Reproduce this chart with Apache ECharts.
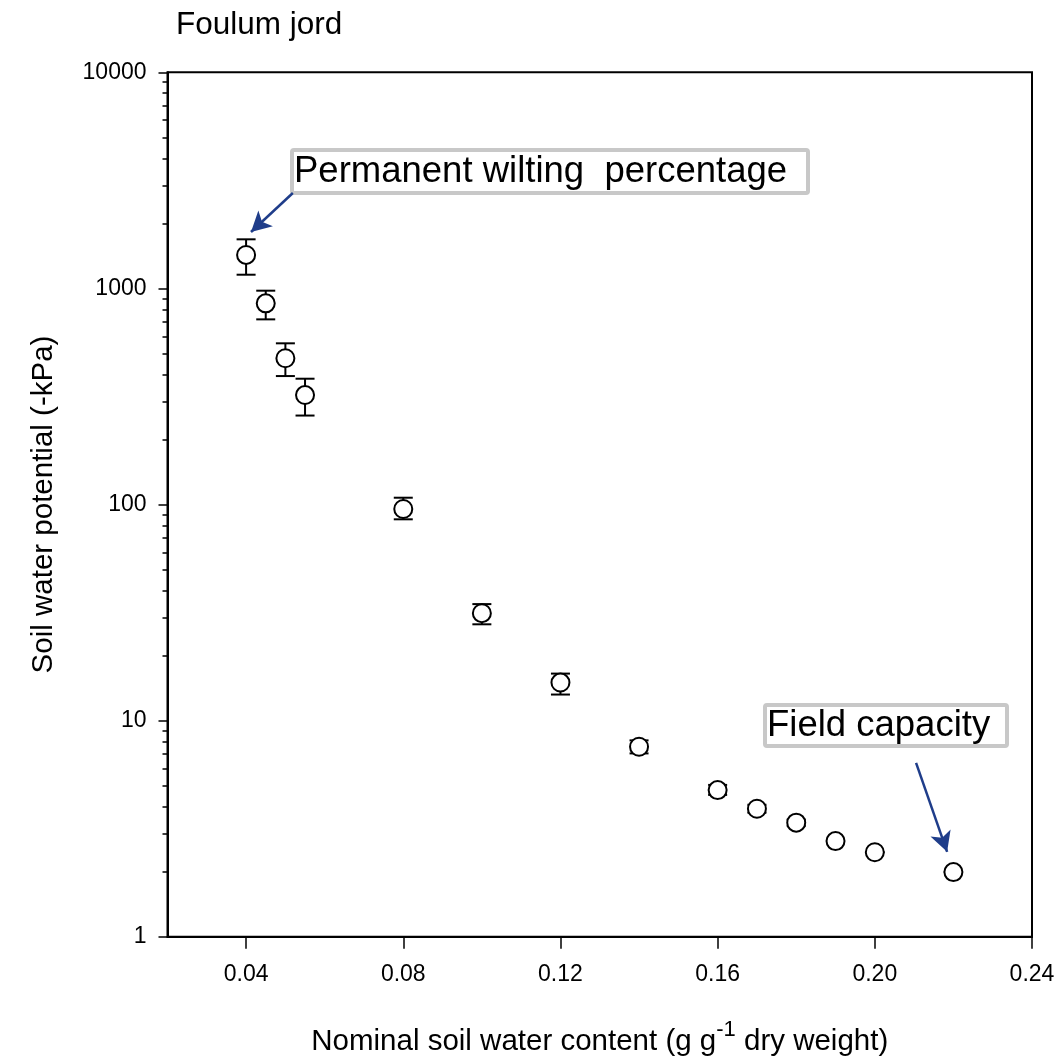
<!DOCTYPE html>
<html>
<head>
<meta charset="utf-8">
<title>Foulum jord</title>
<script src="https://cdn.jsdelivr.net/npm/echarts@6/dist/echarts.min.js"></script>
<style>
  html, body { margin: 0; padding: 0; background: #fff; }
  #main { width: 1064px; height: 1059px; }
</style>
</head>
<body>
<div id="main"></div>
<script>
// 土壤水分特征曲线 - Foulum jord

// 数据
var waterContent = [0.04, 0.045, 0.05, 0.055, 0.08, 0.10, 0.12, 0.14, 0.16, 0.17, 0.18, 0.19, 0.20, 0.22];
var potential    = [1428, 853, 475, 321, 95.3, 31.4, 15.0, 7.57, 4.77, 3.91, 3.37, 2.77, 2.46, 1.99];
var errHigh      = [1687, 976, 557, 382, 107.5, 34.6, 16.5, 8.1, 5.04, 4.08, 3.48, 2.77, 2.46, 1.99];
var errLow       = [1157, 719, 393, 258, 85.4, 27.9, 13.2, 7.05, 4.53, 3.75, 3.26, 2.77, 2.46, 1.99];

var xTicks = [0.04, 0.08, 0.12, 0.16, 0.20, 0.24];
var yTicks = [1, 10, 100, 1000, 10000];
var yMinorTicks = [2, 3, 4, 5, 6, 7, 8, 9, 20, 30, 40, 50, 60, 70, 80, 90,
                   200, 300, 400, 500, 600, 700, 800, 900, 2000, 3000, 4000, 5000, 6000, 7000, 8000, 9000];

// 注释箭头 (数据坐标)
var wiltingArrow = [[0.0519, 2764], [0.04125, 1824]];
var fieldArrow   = [[0.2105, 6.37], [0.2184, 2.47]];

var FONT = '"Liberation Sans", Arial, sans-serif';
var ARROW = '#1f3d8a';

function xLabel(v) {
    return v.toFixed(2);
}
function yLabel(v) {
    return String(Math.round(v));
}

var errData = [];
for (var i = 0; i < waterContent.length; i++)
    errData.push([waterContent[i], errLow[i], errHigh[i]]);

var pointData = [];
for (var j = 0; j < waterContent.length; j++)
    pointData.push([waterContent[j], potential[j]]);

var myChart = echarts.init(document.getElementById('main'));
var option = {
    backgroundColor: '#fff',
    animation: false,
    textStyle: { fontFamily: FONT, color: '#000' },
    title: {
        text: 'Foulum jord',
        left: 176,
        top: 9,
        padding: 0,
        textStyle: { fontFamily: FONT, fontSize: 31.5, fontWeight: 'normal', color: '#000' }
    },
    grid: {
        left: 167.5,
        right: 32,
        top: 72.3,
        bottom: 122.3,
        outerBoundsMode: 'none',
        containLabel: false,
        show: true,
        borderColor: '#000',
        borderWidth: 2,
        backgroundColor: 'transparent'
    },
    xAxis: [
        {
            type: 'value',
            min: 0.02,
            max: 0.24,
            name: 'Nominal soil water content (g g{sup|-1} dry weight)',
            nameLocation: 'middle',
            nameGap: 82,
            nameTextStyle: {
                fontFamily: FONT, fontSize: 29.5, color: '#000',
                rich: {
                    sup: { fontFamily: FONT, fontSize: 22, color: '#000', padding: [0, 0, 24, 0] }
                }
            },
            splitLine: { show: false },
            axisLine: { show: true, onZero: false, lineStyle: { color: '#000', width: 2 } },
            axisTick: { show: true, length: 12, customValues: xTicks, lineStyle: { color: '#000', width: 1.5 } },
            axisLabel: {
                customValues: xTicks,
                formatter: xLabel,
                margin: 26,
                fontFamily: FONT, fontSize: 23, color: '#000'
            }
        }
    ],
    yAxis: [
        {
            type: 'log',
            logBase: 10,
            min: 1,
            max: 10000,
            name: 'Soil water potential (-kPa)',
            nameLocation: 'middle',
            nameGap: 109,
            nameTextStyle: { fontFamily: FONT, fontSize: 29.5, color: '#000' },
            splitLine: { show: false },
            axisLine: { show: true, onZero: false, lineStyle: { color: '#000', width: 2 } },
            axisTick: { show: true, length: 9, customValues: yTicks, lineStyle: { color: '#000', width: 1.5 } },
            axisLabel: {
                customValues: yTicks,
                formatter: yLabel,
                margin: 21,
                fontFamily: FONT, fontSize: 23, color: '#000'
            }
        },
        {
            // 次刻度
            type: 'log',
            logBase: 10,
            min: 1,
            max: 10000,
            position: 'left',
            splitLine: { show: false },
            axisLine: { show: false },
            axisTick: { show: true, length: 5, customValues: yMinorTicks, lineStyle: { color: '#000', width: 1.5 } },
            axisLabel: { show: false }
        }
    ],
    series: [
        {
            name: 'error',
            type: 'custom',
            data: errData,
            z: 2,
            renderItem: function (params, api) {
                var x = api.value(0);
                var lo = api.coord([x, api.value(1)]);
                var hi = api.coord([x, api.value(2)]);
                var w = 9.5;
                var style = { stroke: '#000', lineWidth: 2 };
                return {
                    type: 'group',
                    children: [
                        { type: 'line', shape: { x1: lo[0], y1: lo[1], x2: hi[0], y2: hi[1] }, style: style },
                        { type: 'line', shape: { x1: lo[0] - w, y1: lo[1], x2: lo[0] + w, y2: lo[1] }, style: style },
                        { type: 'line', shape: { x1: hi[0] - w, y1: hi[1], x2: hi[0] + w, y2: hi[1] }, style: style }
                    ]
                };
            }
        },
        {
            name: 'Foulum jord',
            type: 'scatter',
            data: pointData,
            z: 3,
            symbol: 'circle',
            symbolSize: 18,
            itemStyle: { color: '#fff', borderColor: '#000', borderWidth: 2, opacity: 1 },
            markLine: {
                silent: true,
                symbol: ['none', 'arrow'],
                symbolSize: [16, 20],
                label: { show: false },
                lineStyle: { color: ARROW, width: 2.5, type: 'solid' },
                data: [
                    [{ coord: wiltingArrow[0] }, { coord: wiltingArrow[1] }],
                    [{ coord: fieldArrow[0] }, { coord: fieldArrow[1] }]
                ]
            }
        }
    ],
    graphic: [
        {
            type: 'group',
            z: 10,
            children: [
                {
                    type: 'rect',
                    shape: { x: 292, y: 150, width: 516, height: 43, r: 2 },
                    style: { fill: '#fff', stroke: '#c8c8c8', lineWidth: 4 }
                },
                {
                    type: 'text',
                    x: 294,
                    y: 172,
                    style: { text: 'Permanent wilting  percentage', font: '36.5px ' + FONT, fill: '#000', textVerticalAlign: 'middle', verticalAlign: 'middle' }
                }
            ]
        },
        {
            type: 'group',
            z: 10,
            children: [
                {
                    type: 'rect',
                    shape: { x: 765, y: 705, width: 242, height: 41, r: 2 },
                    style: { fill: '#fff', stroke: '#c8c8c8', lineWidth: 4 }
                },
                {
                    type: 'text',
                    x: 767,
                    y: 726,
                    style: { text: 'Field capacity', font: '36.5px ' + FONT, fill: '#000', textVerticalAlign: 'middle', verticalAlign: 'middle' }
                }
            ]
        }
    ]
};
myChart.setOption(option);
</script>
</body>
</html>
